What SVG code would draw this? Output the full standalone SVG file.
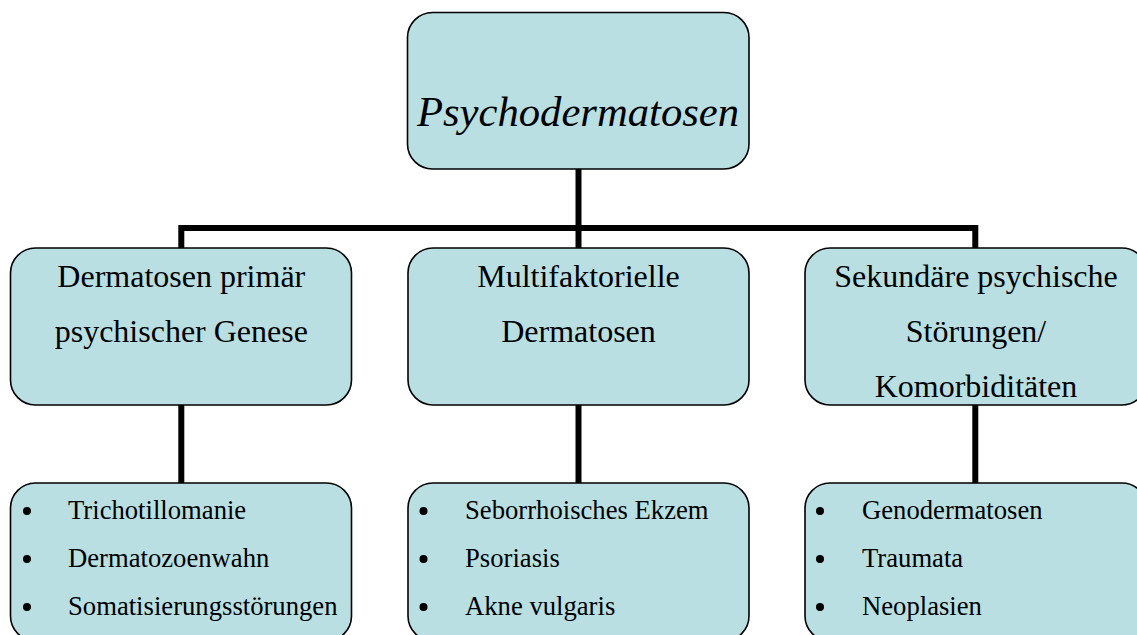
<svg xmlns="http://www.w3.org/2000/svg" width="1137" height="635" viewBox="0 0 1137 635">
<style>
.box{fill:#B9DFE3;stroke:#000;stroke-width:1.6}
.con{stroke:#000;stroke-width:6;fill:none;stroke-linecap:butt}
.title{font-family:"Liberation Serif","Times New Roman",serif;font-style:italic;font-size:42.67px;fill:#000;text-anchor:middle}
.hd{font-family:"Liberation Serif","Times New Roman",serif;font-size:32px;fill:#000;text-anchor:middle}
.it{font-family:"Liberation Serif","Times New Roman",serif;font-size:26.67px;fill:#000}
.bul{fill:#000}
</style>
<rect width="1137" height="635" fill="#fff"/>
<g id="connectors">
<path class="con" d="M578.5,169 V228"/>
<path class="con" d="M181.3,248 V228 H975.3 V248"/>
<path class="con" d="M578.5,228 V248"/>
<path class="con" d="M181.3,405 V483"/>
<path class="con" d="M578.5,405 V483"/>
<path class="con" d="M975.3,405 V483"/>
</g>
<g id="root">
<rect class="box" x="407.5" y="12.5" width="341.5" height="156.5" rx="25" ry="25"/>
<text class="title" x="578" y="126">Psychodermatosen</text>
</g>
<g id="h1">
<rect class="box" x="10.5" y="248" width="341" height="157" rx="25" ry="25"/>
<text class="hd" x="181.3" y="287">Dermatosen primär</text>
<text class="hd" x="181.3" y="342">psychischer Genese</text>
</g>
<g id="h2">
<rect class="box" x="408" y="248" width="341" height="157" rx="25" ry="25"/>
<text class="hd" x="578.5" y="287">Multifaktorielle</text>
<text class="hd" x="578.5" y="342">Dermatosen</text>
</g>
<g id="h3">
<rect class="box" x="805" y="248" width="342" height="157" rx="25" ry="25"/>
<text class="hd" x="976" y="287">Sekundäre psychische</text>
<text class="hd" x="976" y="342">Störungen/</text>
<text class="hd" x="976" y="397">Komorbiditäten</text>
</g>
<g id="l1">
<rect class="box" x="10.5" y="483" width="341" height="158" rx="25" ry="25"/>
<circle class="bul" cx="27" cy="511" r="4"/>
<circle class="bul" cx="27" cy="559" r="4"/>
<circle class="bul" cx="27" cy="607" r="4"/>
<text class="it" x="68" y="519">Trichotillomanie</text>
<text class="it" x="68" y="567">Dermatozoenwahn</text>
<text class="it" x="68" y="615">Somatisierungsstörungen</text>
</g>
<g id="l2">
<rect class="box" x="408" y="483" width="341" height="158" rx="25" ry="25"/>
<circle class="bul" cx="423.5" cy="511" r="4"/>
<circle class="bul" cx="423.5" cy="559" r="4"/>
<circle class="bul" cx="423.5" cy="607" r="4"/>
<text class="it" x="465" y="519">Seborrhoisches Ekzem</text>
<text class="it" x="465" y="567">Psoriasis</text>
<text class="it" x="465" y="615">Akne vulgaris</text>
</g>
<g id="l3">
<rect class="box" x="805" y="483" width="342" height="158" rx="25" ry="25"/>
<circle class="bul" cx="820" cy="511" r="4"/>
<circle class="bul" cx="820" cy="559" r="4"/>
<circle class="bul" cx="820" cy="607" r="4"/>
<text class="it" x="862" y="519">Genodermatosen</text>
<text class="it" x="862" y="567">Traumata</text>
<text class="it" x="862" y="615">Neoplasien</text>
</g>
</svg>
